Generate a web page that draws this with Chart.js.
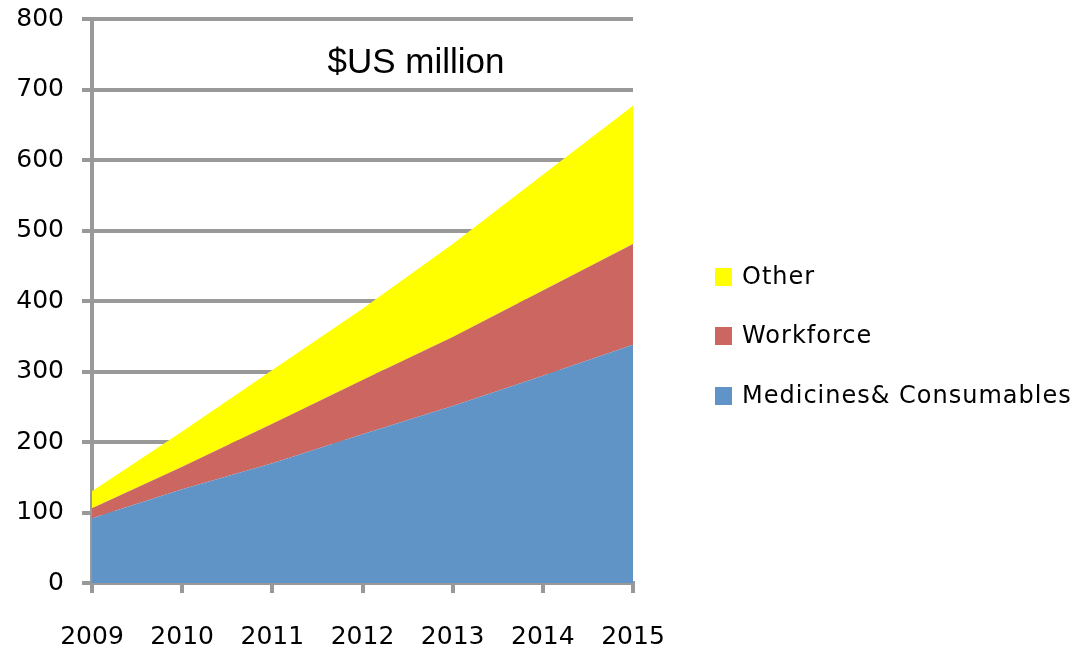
<!DOCTYPE html>
<html>
<head>
<meta charset="utf-8">
<script src="https://cdn.jsdelivr.net/npm/chart.js@4.4.0/dist/chart.umd.min.js"></script>
<style>
  html, body { margin: 0; padding: 0; background: #ffffff; }
  #wrap { width: 1089px; height: 650px; position: relative; }
</style>
</head>
<body>
<div id="wrap"><canvas id="c" width="1089" height="650"></canvas></div>
<script>
// ---- data ----
const years = ['2009', '2010', '2011', '2012', '2013', '2014', '2015'];
const medicines = [92, 133, 170, 211, 251, 294, 338];
const workforce = [14, 32, 56, 77, 98, 121, 143];
const other = [24, 50, 76, 101, 132, 164, 196];
const seriesNames = ['Medicines& Consumables', 'Workforce', 'Other'];
const yTicks = [0, 100, 200, 300, 400, 500, 600, 700, 800];
const titleText = '$US million';

const colors = ['rgb(96,148,198)', 'rgb(204,102,96)', 'rgb(255,255,0)'];
const gridColor = 'rgb(153,153,153)';

const titlePlugin = {
  id: 'titleText',
  afterDraw(chart) {
    const ctx = chart.ctx;
    ctx.save();
    ctx.font = '35px "Liberation Sans", Arial, sans-serif';
    ctx.fillStyle = '#000';
    ctx.textAlign = 'center';
    ctx.textBaseline = 'middle';
    ctx.fillText(titleText, 416, 63);
    ctx.restore();
  }
};

const legendPlugin = {
  id: 'sideLegend',
  afterDraw(chart) {
    const ctx = chart.ctx;
    const ds = chart.data.datasets;
    const rows = [277, 336, 396];
    ctx.save();
    ctx.font = '24px "DejaVu Sans", sans-serif';
    try { ctx.letterSpacing = '1px'; } catch (e) {}
    ctx.textBaseline = 'middle';
    ctx.textAlign = 'left';
    for (let i = 0; i < ds.length; i++) {
      const d = ds[ds.length - 1 - i];
      const y = rows[i];
      ctx.fillStyle = d.backgroundColor;
      ctx.fillRect(715, y - 9, 17, 18);
      ctx.fillStyle = '#000';
      ctx.fillText(d.label, 742, y + 1);
    }
    ctx.restore();
  }
};

const mk = (label, data, color, fill) => ({
  label, data,
  backgroundColor: color,
  borderColor: color,
  borderWidth: 0,
  pointRadius: 0,
  pointHoverRadius: 0,
  fill,
  tension: 0
});

new Chart(document.getElementById('c'), {
  type: 'line',
  data: {
    labels: years,
    datasets: [
      mk(seriesNames[0], medicines, colors[0], 'origin'),
      mk(seriesNames[1], workforce, colors[1], '-1'),
      mk(seriesNames[2], other, colors[2], '-1')
    ]
  },
  options: {
    responsive: false,
    animation: false,
    events: [],
    layout: { padding: { left: 0, right: 456, top: 19, bottom: 0 } },
    plugins: { legend: { display: false }, tooltip: { enabled: false }, title: { display: false } },
    scales: {
      x: {
        type: 'category',
        offset: false,
        afterFit(s) { s.height = 67; },
        grid: { drawOnChartArea: false, drawTicks: true, tickLength: 10, color: gridColor, lineWidth: 4 },
        border: { color: gridColor, width: 4 },
        ticks: { color: '#000', font: { family: '"DejaVu Sans", sans-serif', size: 25 }, padding: 29, maxRotation: 0, autoSkip: false }
      },
      y: {
        stacked: true,
        min: 0, max: 800,
        afterFit(s) { s.width = 92; s.paddingTop = 12; s.paddingBottom = 12; },
        afterBuildTicks(s) { s.ticks = yTicks.map(v => ({ value: v })); },
        grid: { color: gridColor, lineWidth: 4, tickLength: 10, drawTicks: true },
        border: { color: gridColor, width: 4 },
        ticks: { color: '#000', font: { family: '"DejaVu Sans", sans-serif', size: 25 }, padding: 18 }
      }
    }
  },
  plugins: [titlePlugin, legendPlugin]
});
</script>
</body>
</html>
